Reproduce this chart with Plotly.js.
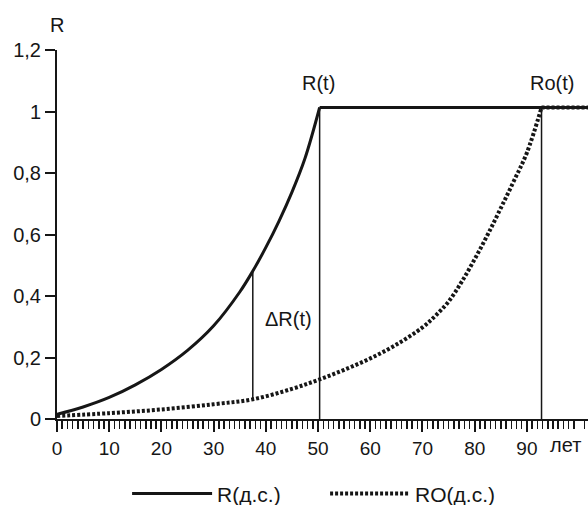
<!DOCTYPE html>
<html>
<head>
<meta charset="utf-8">
<script src="https://cdn.plot.ly/plotly-3.0.1.min.js"></script>
<style>
html,body{margin:0;padding:0;background:#fff;}
#chart{width:588px;height:505px;}
</style>
</head>
<body>
<div id="chart"></div>
<script>
// Data
// rising parts of the curves
var yearsR = [0, 5, 10, 15, 20, 25, 30, 35, 37.5, 40, 42.5, 45, 47.5, 50.3];
var valuesR = [0.015, 0.039, 0.07, 0.111, 0.161, 0.223, 0.303, 0.413, 0.481, 0.558, 0.643, 0.738, 0.848, 1.013];
var yearsRO = [0, 10, 20, 30, 37.5, 45, 50, 55, 60, 65, 70, 72.5, 75, 77.5, 80, 82.5, 85, 87.5, 90, 92.8];
var valuesRO = [0.01, 0.019, 0.031, 0.048, 0.064, 0.098, 0.127, 0.16, 0.197, 0.242, 0.298, 0.336, 0.382, 0.446, 0.52, 0.6, 0.686, 0.774, 0.866, 1.013];
// plateau after reaching the limit
var plateauEnd = 102;
var plateauLevel = 1.013;
// vertical guide lines: year, lower end, upper end
var guideYears = [37.5, 50.3, 92.8];
var guideLow = [0.064, 0, 0];
var guideHigh = [0.481, 1.013, 1.013];
var seriesNames = ['R(д.с.)', 'RO(д.с.)'];
var xTicks = [0, 10, 20, 30, 40, 50, 60, 70, 80, 90];
var yTicks = [0, 0.2, 0.4, 0.6, 0.8, 1, 1.2];

var minorTicks = [];
for (var m = 0; m <= 101; m++) { if (m % 10 !== 0) minorTicks.push(m); }

var ink = '#161616';
var fontFam = 'Liberation Sans, Arial, sans-serif';
var dotDash = '3px,2px';

var guideX = [], guideY = [];
for (var i = 0; i < guideYears.length; i++) {
  guideX.push(guideYears[i], guideYears[i], null);
  guideY.push(guideLow[i], guideHigh[i], null);
}
var lastR = yearsR[yearsR.length - 1];
var lastRO = yearsRO[yearsRO.length - 1];

var traces = [
  {x: guideX, y: guideY, mode: 'lines', line: {color: ink, width: 1.5}, showlegend: false, hoverinfo: 'skip'},
  {x: [lastR, plateauEnd], y: [plateauLevel, plateauLevel], mode: 'lines', line: {color: ink, width: 3}, legendgroup: 'R', showlegend: false},
  {x: yearsR, y: valuesR, name: seriesNames[0], legendgroup: 'R', mode: 'lines', line: {color: ink, width: 3, shape: 'spline', smoothing: 1}},
  {x: [lastRO, plateauEnd], y: [plateauLevel, plateauLevel], mode: 'lines', line: {color: ink, width: 4, dash: dotDash}, legendgroup: 'RO', showlegend: false},
  {x: yearsRO, y: valuesRO, name: seriesNames[1], legendgroup: 'RO', mode: 'lines', line: {color: ink, width: 4, dash: dotDash, shape: 'spline', smoothing: 1}}
];

var layout = {
  width: 588, height: 505,
  margin: {l: 57, r: 0, t: 50, b: 86, autoexpand: false},
  paper_bgcolor: '#fff', plot_bgcolor: '#fff',
  separators: ', ',
  font: {family: fontFam, size: 19, color: ink},
  xaxis: {
    range: [0, 101.7], tickmode: 'array', tickvals: xTicks, showgrid: false, zeroline: false,
    showline: true, linecolor: ink, linewidth: 2,
    ticks: 'outside', ticklen: 11, tickwidth: 2, tickcolor: ink, ticklabeloverflow: 'allow',
    minor: {tickmode: 'array', tickvals: minorTicks, ticks: 'outside', ticklen: 8, tickwidth: 1.5, tickcolor: ink, showgrid: false},
    tickfont: {family: fontFam, size: 19, color: ink}
  },
  yaxis: {
    range: [0, 1.2], tickvals: yTicks, showgrid: false, zeroline: false,
    showline: true, linecolor: ink, linewidth: 2,
    ticks: 'outside', ticklen: 10, tickwidth: 2, tickcolor: ink,
    tickfont: {family: fontFam, size: 20, color: ink}
  },
  showlegend: true,
  legend: {
    orientation: 'h', x: 0.132, xanchor: 'left', y: -0.203, yanchor: 'middle',
    itemwidth: 80, entrywidth: 103, entrywidthmode: 'pixels', traceorder: 'normal',
    font: {family: fontFam, size: 21, color: ink}, bgcolor: 'rgba(0,0,0,0)'
  },
  annotations: [
    {text: 'R', x: 0, y: 1.068, xref: 'paper', yref: 'paper', xanchor: 'center', yanchor: 'middle', showarrow: false, font: {size: 20}},
    {text: 'R(t)', x: 50, y: 1.093, xref: 'x', yref: 'y', xanchor: 'center', yanchor: 'middle', showarrow: false, font: {size: 20}},
    {text: 'Ro(t)', x: 94.8, y: 1.093, xref: 'x', yref: 'y', xanchor: 'center', yanchor: 'middle', showarrow: false, font: {size: 20}},
    {text: 'ΔR(t)', x: 44.4, y: 0.325, xref: 'x', yref: 'y', xanchor: 'center', yanchor: 'middle', showarrow: false, font: {size: 20}},
    {text: 'лет', x: 0.9906, y: -0.0705, xref: 'paper', yref: 'paper', xanchor: 'right', yanchor: 'middle', showarrow: false, font: {size: 20}}
  ]
};

Plotly.newPlot('chart', traces, layout, {displayModeBar: false, staticPlot: true}).then(function (gd) {
  // Safety net: if the last x tick label did not get drawn, add it as text at the same height
  var lastTick = String(xTicks[xTicks.length - 1]);
  var prevTick = String(xTicks[xTicks.length - 2]);
  var gdRect = gd.getBoundingClientRect();
  var found = false, prevRect = null;
  gd.querySelectorAll('.xtick text').forEach(function (t) {
    var r = t.getBoundingClientRect();
    var shown = t.getAttribute('display') !== 'none' && t.style.display !== 'none' &&
      t.style.opacity !== '0' && r.width > 0 &&
      r.left >= gdRect.left && r.right <= gdRect.right && r.top >= gdRect.top && r.bottom <= gdRect.bottom;
    if (t.textContent === lastTick && shown) found = true;
    if (t.textContent === prevTick) prevRect = r;
  });
  if (!found) {
    var size = gd._fullLayout._size;
    var yc = prevRect ? (prevRect.top + prevRect.bottom) / 2 - gdRect.top : size.t + size.h + 28;
    var py = (size.t + size.h - yc) / size.h;
    var anns = gd.layout.annotations.slice();
    anns.push({text: lastTick, x: xTicks[xTicks.length - 1], xref: 'x', y: py, yref: 'paper',
      xanchor: 'center', yanchor: 'middle', showarrow: false, font: {size: 19}});
    Plotly.relayout(gd, {annotations: anns});
  }
});
</script>
</body>
</html>
